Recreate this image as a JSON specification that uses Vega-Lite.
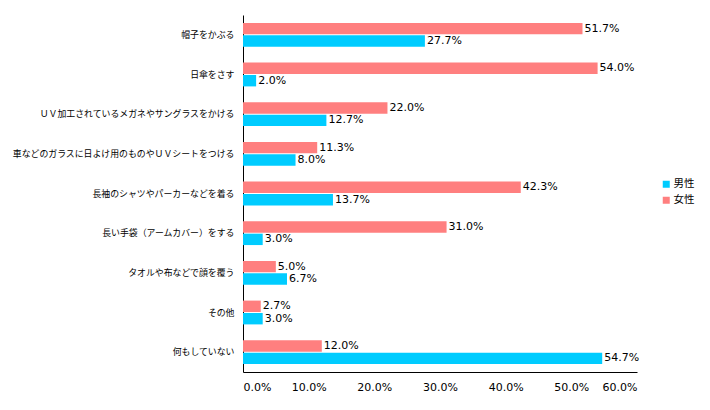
{
  "$schema": "https://vega.github.io/schema/vega-lite/v6.json",
  "autosize": {"type": "none"},
  "width": 394,
  "height": 357,
  "padding": {"left": 243, "top": 15, "right": 73, "bottom": 38},
  "background": "white",
  "config": {"view": {"stroke": null}},
  "data": {"values": [
    {"item": "帽子をかぶる", "sex": "女性", "v": 51.7},
    {"item": "帽子をかぶる", "sex": "男性", "v": 27.7},
    {"item": "日傘をさす", "sex": "女性", "v": 54.0},
    {"item": "日傘をさす", "sex": "男性", "v": 2.0},
    {"item": "ＵＶ加工されているメガネやサングラスをかける", "sex": "女性", "v": 22.0},
    {"item": "ＵＶ加工されているメガネやサングラスをかける", "sex": "男性", "v": 12.7},
    {"item": "車などのガラスに日よけ用のものやＵＶシートをつける", "sex": "女性", "v": 11.3},
    {"item": "車などのガラスに日よけ用のものやＵＶシートをつける", "sex": "男性", "v": 8.0},
    {"item": "長袖のシャツやパーカーなどを着る", "sex": "女性", "v": 42.3},
    {"item": "長袖のシャツやパーカーなどを着る", "sex": "男性", "v": 13.7},
    {"item": "長い手袋（アームカバー）をする", "sex": "女性", "v": 31.0},
    {"item": "長い手袋（アームカバー）をする", "sex": "男性", "v": 3.0},
    {"item": "タオルや布などで顔を覆う", "sex": "女性", "v": 5.0},
    {"item": "タオルや布などで顔を覆う", "sex": "男性", "v": 6.7},
    {"item": "その他", "sex": "女性", "v": 2.7},
    {"item": "その他", "sex": "男性", "v": 3.0},
    {"item": "何もしていない", "sex": "女性", "v": 12.0},
    {"item": "何もしていない", "sex": "男性", "v": 54.7}
  ]},
  "encoding": {
    "y": {
      "field": "item", "type": "nominal", "sort": null,
      "scale": {"paddingInner": 0.4, "paddingOuter": 0.2},
      "axis": {"title": null, "ticks": false, "domainColor": "black", "labelFont": "Noto Sans CJK JP", "labelFontSize": 8.9, "labelColor": "#000", "labelPadding": 9, "labelLimit": 300}
    },
    "yOffset": {"field": "sex", "type": "nominal", "sort": ["女性", "男性"], "scale": {"paddingInner": 0.08}},
    "x": {
      "field": "v", "type": "quantitative",
      "scale": {"domain": [0, 60]},
      "axis": {"title": null, "values": [0, 10, 20, 30, 40, 50, 60], "grid": false, "ticks": false, "domainColor": "black", "labelExpr": "format(datum.value, '.1f') + '%'", "labelFont": "DejaVu Sans", "labelFontSize": 11, "labelColor": "#000", "labelPadding": 9}
    }
  },
  "layer": [
    {
      "mark": {"type": "bar"},
      "encoding": {
        "color": {
          "field": "sex", "type": "nominal",
          "scale": {"domain": ["男性", "女性"], "range": ["#00CCFF", "#FF7F7F"]},
          "legend": {"title": null, "orient": "none", "legendX": 418, "legendY": 164, "symbolType": "square", "symbolSize": 49, "symbolStrokeWidth": 0, "labelFont": "Noto Sans CJK JP", "labelFontSize": 10.5, "labelColor": "#000", "rowPadding": 5, "labelOffset": 2}
        }
      }
    },
    {
      "transform": [{"calculate": "format(datum.v, '.1f') + '%'", "as": "lbl"}],
      "mark": {"type": "text", "align": "left", "dx": 2, "font": "DejaVu Sans", "fontSize": 11, "color": "#000"},
      "encoding": {"text": {"field": "lbl", "type": "nominal"}}
    }
  ]
}
